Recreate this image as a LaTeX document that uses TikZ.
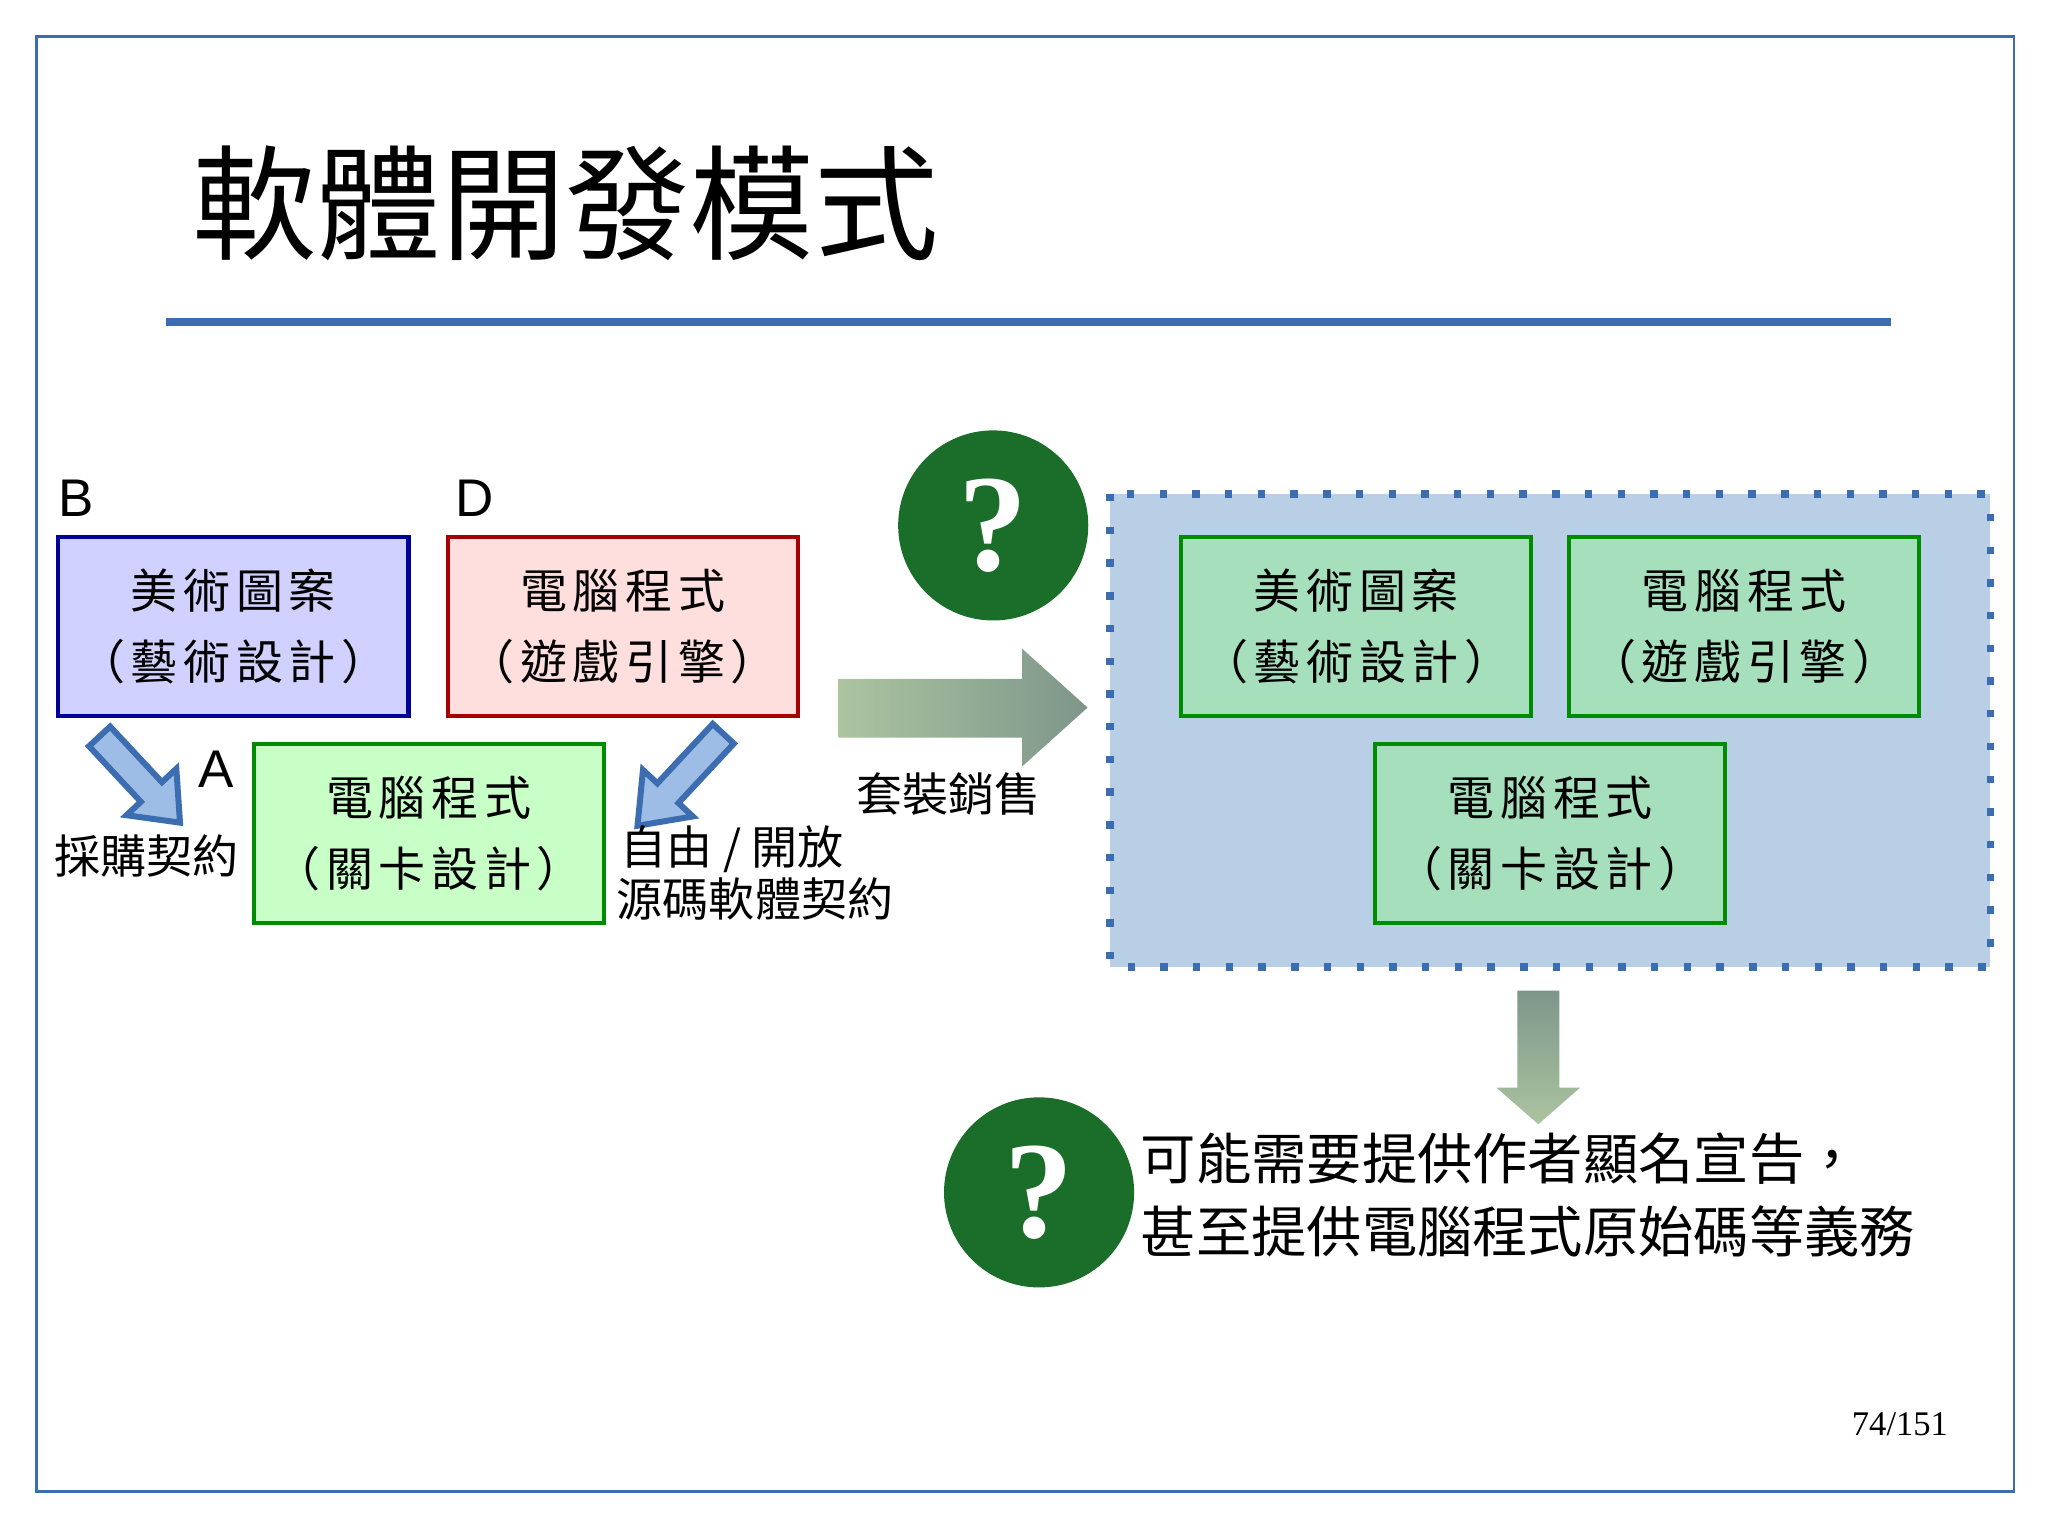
\documentclass[tikz,border=0pt]{standalone}
\usepackage{fontspec}
\setmainfont{Liberation Serif}
\newfontfamily\cjk{Noto Sans CJK TC}
\newfontfamily\cjkw[LetterSpace=12]{Noto Sans CJK TC}
\newfontfamily\lsans{Liberation Sans}
\definecolor{frameblue}{HTML}{3C6DB0}
\definecolor{qgreen}{HTML}{1A6E2A}
\definecolor{regionblue}{HTML}{B8CFE6}
\definecolor{gbox}{HTML}{A6DFBC}
\definecolor{arrblue}{HTML}{9DBDE6}
\tikzset{
 box/.style={draw, line width=0.9pt, minimum width=2.67cm, minimum height=1.37cm, inner sep=0pt, align=center, font=\cjkw\fontsize{10.2}{15.5}\selectfont},
 greenbox/.style={box, fill=#1, draw=green!55!black},
 qmark/.style={circle, fill=qgreen, minimum size=1.45cm, inner sep=0pt, text=white, font=\bfseries\fontsize{30}{30}\selectfont},
 lbl/.style={font=\lsans\fontsize{11.5}{12}\selectfont, inner sep=0pt},
 txt/.style={font=\cjk\fontsize{10}{13}\selectfont, inner sep=0pt, align=left},
 barrow/.style={draw=frameblue, line width=1.3pt, fill=arrblue, line join=miter},
}
\begin{document}
\begin{tikzpicture}[x=0.01cm,y=-0.01cm]
\useasboundingbox (0,0) rectangle (1563,1172);
\fill[white] (0,0) rectangle (1563,1172);
\draw[frameblue, line width=0.6pt] (28,28) rectangle (1537,1138);
\node[anchor=west, inner sep=0pt, font=\cjk\fontsize{27}{27}\selectfont] (title) at (146,155) {軟體開發模式};
\draw[frameblue, line width=1.7pt] (127,246) -- (1443,246);

\node[lbl] (lb) at (58,380) {B};
\node[lbl] (ld) at (362,380) {D};
\node[lbl] (la) at (165,587) {A};

\node[box, fill=blue!18!white, draw=blue!60!black, anchor=north west] (bb) at (43,408) {美術圖案\\（藝術設計）};
\node[box, fill=red!13!white, draw=red!65!black, anchor=north west] (db) at (340,408) {電腦程式\\（遊戲引擎）};
\node[greenbox=green!22!white, anchor=north west] (ab) at (192,566) {電腦程式\\（關卡設計）};

\begin{scope}[shift={(76,562)}, rotate=-47]
\draw[barrow] (0,-11) -- (58,-11) -- (58,-26) -- (90,0) -- (58,26) -- (58,11) -- (0,11) -- cycle;
\end{scope}
\begin{scope}[shift={(552,560)}, rotate=-133]
\draw[barrow] (0,-11) -- (62,-11) -- (62,-26) -- (96,0) -- (62,26) -- (62,11) -- (0,11) -- cycle;
\end{scope}

\node[txt, anchor=center] (t1) at (112,653) {採購契約};
\node[txt, anchor=west] (t2) at (473,648) {自由 / 開放};
\node[txt, anchor=west] (t3) at (470,686) {源碼軟體契約};

\shade[left color={rgb,255:red,172;green,196;blue,160}, right color={rgb,255:red,125;green,150;blue,138}] (640,518) -- (780,518) -- (780,495) -- (830,540) -- (780,585) -- (780,563) -- (640,563) -- cycle;
\node[txt, anchor=center] (t4) at (724,606) {套裝銷售};
\node[qmark] (q1) at (758,401) {?};

\draw[frameblue, line width=1.6pt, dash pattern=on 1.6pt off 5.5pt, fill=regionblue] (847,377) rectangle (1519,738);
\node[greenbox=gbox, anchor=north west] (g1) at (900,408) {美術圖案\\（藝術設計）};
\node[greenbox=gbox, anchor=north west] (g2) at (1196,408) {電腦程式\\（遊戲引擎）};
\node[greenbox=gbox, anchor=north west] (g3) at (1048,566) {電腦程式\\（關卡設計）};

\shade[top color={rgb,255:red,125;green,150;blue,138}, bottom color={rgb,255:red,172;green,196;blue,160}] (1158,756) -- (1190,756) -- (1190,830) -- (1206,830) -- (1174,858) -- (1142,830) -- (1158,830) -- cycle;

\node[qmark] (q2) at (793,910) {?};
\node[txt, anchor=west, font=\cjk\fontsize{12}{16}\selectfont] (t5) at (870,912) {可能需要提供作者顯名宣告，\\甚至提供電腦程式原始碼等義務};
\node[inner sep=0pt, font=\fontsize{7.5}{8}\selectfont] (pg) at (1450,1087) {74/151};
\end{tikzpicture}
\end{document}
